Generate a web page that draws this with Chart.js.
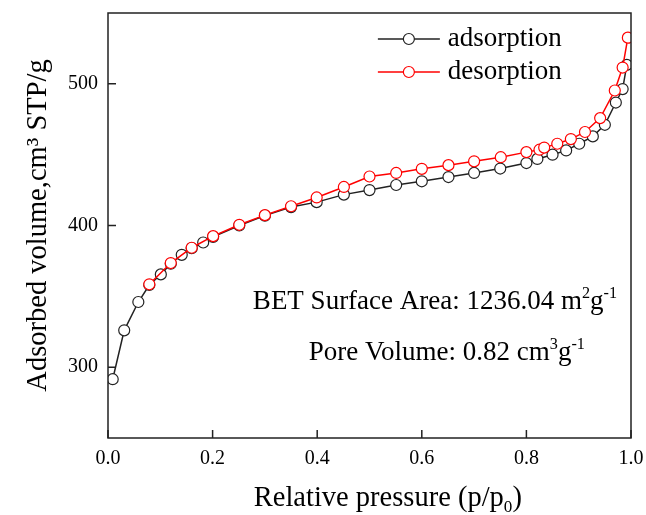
<!DOCTYPE html>
<html>
<head>
<meta charset="utf-8">
<script src="https://cdn.jsdelivr.net/npm/chart.js@4"></script>
<style>
  body { margin: 0; background: #fff; }
  #wrap { width: 646px; height: 515px; }
</style>
</head>
<body>
<div id="wrap"><canvas id="chart"></canvas></div>
<script>
// isotherm data
const adsorptionP = [0.009, 0.031, 0.058, 0.079, 0.101, 0.12, 0.141, 0.16, 0.182, 0.201, 0.251, 0.30, 0.35, 0.399, 0.451, 0.50, 0.551, 0.60, 0.651, 0.70, 0.75, 0.80, 0.821, 0.85, 0.876, 0.901, 0.927, 0.95, 0.971, 0.984, 0.992];
const adsorptionV = [291.5, 326, 346, 358, 365.5, 373, 379.3, 384, 388, 392, 400, 407, 413, 416.5, 421.8, 425, 428.6, 431.2, 434.2, 437.1, 440.2, 444.1, 447, 450, 453, 457.7, 462.9, 471.1, 486.8, 496.3, 513.4];
const desorptionP = [0.079, 0.12, 0.16, 0.201, 0.251, 0.30, 0.35, 0.399, 0.451, 0.50, 0.551, 0.60, 0.651, 0.70, 0.751, 0.80, 0.825, 0.834, 0.859, 0.885, 0.912, 0.941, 0.969, 0.984, 0.994];
const desorptionV = [358.5, 373.5, 384.3, 392.5, 400.5, 407.3, 413.6, 419.8, 427.2, 434.6, 437.1, 440, 442.6, 445.3, 448.2, 451.8, 453.5, 455, 457.7, 461, 466, 475.8, 495.3, 511.5, 532.6];
const xTicks = [0.0, 0.2, 0.4, 0.6, 0.8, 1.0];
const yTicks = [300, 400, 500];
const seriesNames = ['adsorption', 'desorption'];
const seriesColors = ['#222222', '#ff0000'];

const serif = "'Liberation Serif', 'Times New Roman', serif";

function toPoints(xs, ys) {
  return xs.map((x, i) => ({ x: x, y: ys[i] }));
}

// draws text pieces, some raised (sup) or lowered (sub); returns width
function drawRich(ctx, parts, x, y, size, measureOnly) {
  const x0 = x;
  parts.forEach(p => {
    const s = p.sup || p.sub ? size * 0.6 : size;
    ctx.font = s + 'px ' + serif;
    const dy = p.sup ? -size * 0.4 : (p.sub ? size * 0.22 : 0);
    if (!measureOnly) ctx.fillText(p.t, x, y + dy);
    x += ctx.measureText(p.t).width;
  });
  return x - x0;
}

const framePlugin = {
  id: 'frame',
  afterDraw(chart) {
    const { ctx, chartArea: a, scales } = chart;
    ctx.save();
    ctx.strokeStyle = '#222';
    ctx.lineWidth = 1.5;
    ctx.strokeRect(a.left, a.top, a.right - a.left, a.bottom - a.top);
    // inward tick marks
    ctx.beginPath();
    xTicks.forEach(v => {
      const px = scales.x.getPixelForValue(v);
      ctx.moveTo(px, a.bottom);
      ctx.lineTo(px, a.bottom - 8);
    });
    yTicks.forEach(v => {
      const py = scales.y.getPixelForValue(v);
      ctx.moveTo(a.left, py);
      ctx.lineTo(a.left + 8, py);
    });
    ctx.stroke();

    // legend
    const w = a.right - a.left;
    const lx = a.left + w * 0.516;
    seriesNames.forEach((name, i) => {
      const ly = a.top + 26 + i * 33;
      ctx.strokeStyle = seriesColors[i];
      ctx.lineWidth = 1.5;
      ctx.beginPath();
      ctx.moveTo(lx, ly);
      ctx.lineTo(lx + 62, ly);
      ctx.stroke();
      ctx.beginPath();
      ctx.arc(lx + 31, ly, 5.5, 0, Math.PI * 2);
      ctx.fillStyle = '#fff';
      ctx.fill();
      ctx.lineWidth = 1.2;
      ctx.stroke();
      ctx.fillStyle = '#000';
      ctx.font = '27px ' + serif;
      ctx.textBaseline = 'alphabetic';
      ctx.fillText(name, lx + 70, ly + 7);
    });

    // BET annotation
    ctx.fillStyle = '#000';
    ctx.textBaseline = 'alphabetic';
    drawRich(ctx, [
      { t: 'BET Surface Area: 1236.04 m' }, { t: '2', sup: true }, { t: 'g' }, { t: '-1', sup: true }
    ], a.left + w * 0.277, a.top + 296, 27);
    drawRich(ctx, [
      { t: 'Pore Volume: 0.82 cm' }, { t: '3', sup: true }, { t: 'g' }, { t: '-1', sup: true }
    ], a.left + w * 0.384, a.top + 347, 27);

    // x axis title, sits a little right of centre in the original
    const xTitle = [{ t: 'Relative pressure (p/p' }, { t: '0', sub: true }, { t: ')' }];
    const tw = drawRich(ctx, xTitle, 0, 0, 28.5, true);
    drawRich(ctx, xTitle, a.left + w * 0.535 - tw / 2, a.bottom + 68, 28.5);
    ctx.restore();
  }
};

const ctx = document.getElementById('chart').getContext('2d');
new Chart(ctx, {
  type: 'line',
  data: {
    datasets: [
      {
        label: seriesNames[0],
        data: toPoints(adsorptionP, adsorptionV),
        borderColor: seriesColors[0],
        backgroundColor: '#fff',
        pointBackgroundColor: '#fff',
        pointBorderColor: seriesColors[0],
        borderWidth: 1.5,
        pointRadius: 5.5,
        pointBorderWidth: 1.2,
        order: 2
      },
      {
        label: seriesNames[1],
        data: toPoints(desorptionP, desorptionV),
        borderColor: seriesColors[1],
        backgroundColor: '#fff',
        pointBackgroundColor: '#fff',
        pointBorderColor: seriesColors[1],
        borderWidth: 1.5,
        pointRadius: 5.5,
        pointBorderWidth: 1.2,
        order: 1
      }
    ]
  },
  options: {
    responsive: true,
    maintainAspectRatio: false,
    animation: false,
    layout: { padding: { top: 13, right: 15, left: 0, bottom: 0 } },
    plugins: { legend: { display: false }, tooltip: { enabled: false } },
    scales: {
      x: {
        type: 'linear',
        min: 0, max: 1,
        afterBuildTicks: s => { s.ticks = xTicks.map(v => ({ value: v })); },
        afterFit: s => { s.height = 77; s.paddingLeft = 0; s.paddingRight = 0; },
        grid: { display: false, drawTicks: false },
        border: { display: false },
        ticks: {
          padding: 9,
          color: '#000',
          font: { family: serif, size: 20 },
          maxRotation: 0,
          callback: v => v.toFixed(1)
        },
        title: { display: false }
      },
      y: {
        type: 'linear',
        min: 250, max: 550,
        afterBuildTicks: s => { s.ticks = yTicks.map(v => ({ value: v })); },
        afterFit: s => { s.width = 108; s.paddingTop = 0; s.paddingBottom = 0; },
        grid: { display: false, drawTicks: false },
        border: { display: false },
        ticks: {
          padding: 10,
          color: '#000',
          font: { family: serif, size: 20 },
          callback: v => String(v)
        },
        title: {
          display: true,
          text: 'Adsorbed volume,cm\u00b3 STP/g',
          color: '#000',
          font: { family: serif, size: 28.5 },
          padding: { top: 21, bottom: 0 }
        }
      }
    }
  },
  plugins: [framePlugin]
});
</script>
</body>
</html>
